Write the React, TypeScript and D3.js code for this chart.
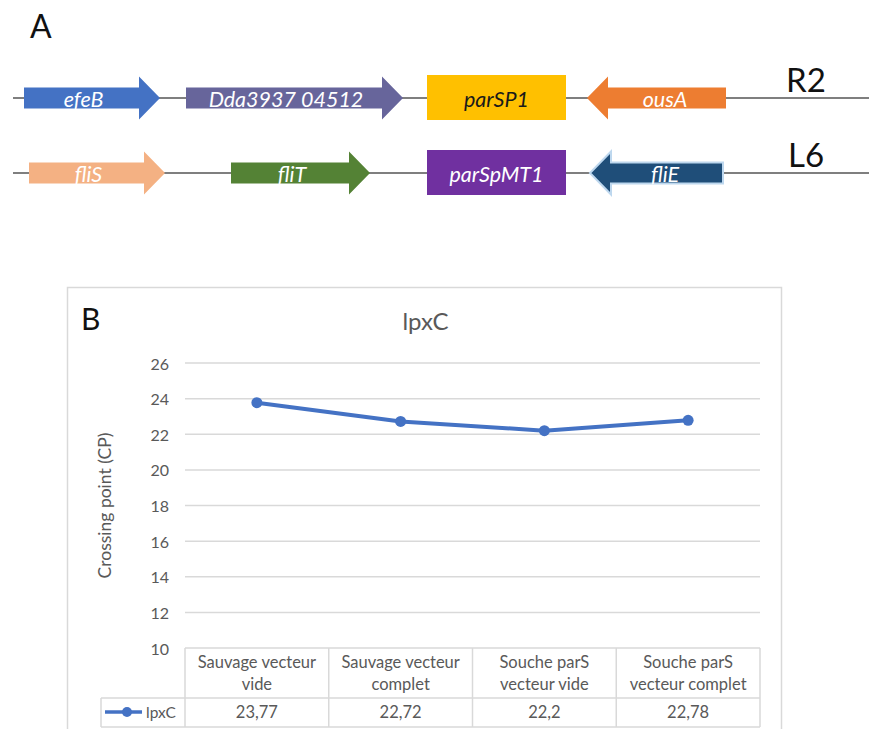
import React from "react";
import * as d3 from "d3";

// ---------- Panel A data (schematic gene maps, positions in map units) ----------
const rowNames = ["R2", "L6"];
const genesR2 = [
  { name: "efeB", start: 24, end: 160, color: "#4472C4", text: "#ffffff" },
  { name: "Dda3937 04512", start: 186, end: 403, color: "#67659B", text: "#ffffff" },
  { name: "parSP1", start: 427, end: 566, color: "#FFC000", text: "#1a1a1a", box: true },
  { name: "ousA", start: 726, end: 587, color: "#ED7D31", text: "#ffffff" },
];
const genesL6 = [
  { name: "fliS", start: 29, end: 165, color: "#F4B183", text: "#ffffff" },
  { name: "fliT", start: 231, end: 370, color: "#548235", text: "#ffffff" },
  { name: "parSpMT1", start: 427, end: 566, color: "#7030A0", text: "#ffffff", box: true },
  { name: "fliE", start: 723, end: 590, color: "#1F4E79", text: "#ffffff", glow: true },
];

// ---------- Panel B data ----------
const categories = [
  ["Sauvage vecteur", "vide"],
  ["Sauvage vecteur", "complet"],
  ["Souche parS", "vecteur vide"],
  ["Souche parS", "vecteur complet"],
];
const seriesName = "lpxC";
const values = [23.77, 22.72, 22.2, 22.78];
const valueLabels = ["23,77", "22,72", "22,2", "22,78"];
const yTicks = [10, 12, 14, 16, 18, 20, 22, 24, 26];

const FONT = "Lato, 'Open Sans', sans-serif";
const GREY = "#595959";

function arrowPath(tail: number, tip: number, cy: number, bodyH: number, headH: number, headLen: number) {
  const dir = tip > tail ? 1 : -1;
  const hb = tip - dir * headLen;
  const p = d3.path();
  p.moveTo(tail, cy - bodyH / 2);
  p.lineTo(hb, cy - bodyH / 2);
  p.lineTo(hb, cy - headH / 2);
  p.lineTo(tip, cy);
  p.lineTo(hb, cy + headH / 2);
  p.lineTo(hb, cy + bodyH / 2);
  p.lineTo(tail, cy + bodyH / 2);
  p.closePath();
  return p.toString();
}

function GeneRow({ genes, cy, label }: { genes: any[]; cy: number; label: string }) {
  const mx = d3.scaleLinear().domain([0, 869]).range([0, 869]);
  return (
    <g>
      <line x1={mx(13)} x2={mx(869)} y1={cy} y2={cy} stroke="#555" strokeWidth={1.5} />
      {genes.map((g) => {
        const a = mx(g.start), b = mx(g.end);
        const cx = (a + b) / 2;
        const left = Math.min(a, b), right = Math.max(a, b);
        const dir = b > a ? 1 : -1;
        const headLen = 21;
        const bodyCenter = g.box ? cx : (a + (b - dir * headLen)) / 2 + dir * 2;
        return (
          <g key={g.name}>
            {g.box ? (
              <rect x={left} y={cy - 23} width={right - left} height={45} fill={g.color} />
            ) : (
              <path
                d={arrowPath(a, b, cy, 21, 43, headLen)}
                fill={g.color}
                stroke={g.glow ? "#BDD7EE" : "none"}
                strokeWidth={g.glow ? 2 : 0}
              />
            )}
            <text
              x={g.box ? cx : bodyCenter}
              y={cy + 1}
              textAnchor="middle"
              dominantBaseline="central"
              fontFamily={FONT}
              fontStyle="italic"
              fontSize={21.5}
              fill={g.text}
            >
              {g.name}
            </text>
          </g>
        );
      })}
      <text x={806} y={cy - 6} textAnchor="middle" fontFamily={FONT} fontSize={33} fill="#111">
        {label}
      </text>
    </g>
  );
}

export default function App() {
  const plotL = 185, plotR = 760, plotT = 363, plotB = 648;
  const x = d3.scaleBand<number>().domain(d3.range(categories.length)).range([plotL, plotR]).padding(0);
  const y = d3.scaleLinear().domain([10, 26]).range([plotB, plotT]);
  const xc = (i: number) => (x(i) as number) + x.bandwidth() / 2;
  const line = d3
    .line<number>()
    .x((_, i) => xc(i))
    .y((d) => y(d));

  const row1B = 698, row2B = 727;
  const legendL = 101;

  return (
    <svg width={869} height={729} style={{ position: "absolute", left: 0, top: 0, background: "#fff" }}>
      {/* Panel A */}
      <text x={30} y={38} fontFamily={FONT} fontSize={32} fill="#111">A</text>
      <GeneRow genes={genesR2} cy={98} label={rowNames[0]} />
      <GeneRow genes={genesL6} cy={173} label={rowNames[1]} />

      {/* Panel B frame */}
      <rect x={67.5} y={287.5} width={714} height={460} fill="#fff" stroke="#D9D9D9" strokeWidth={1.5} />
      <text x={81} y={330} fontFamily={FONT} fontSize={30} fill="#111">B</text>
      <text x={(plotL + plotR) / 2 - 47} y={330} textAnchor="middle" fontFamily={FONT} fontSize={24} fill={GREY}>
        {seriesName}
      </text>

      {/* gridlines + y ticks */}
      {yTicks.map((t) => (
        <g key={t}>
          {t > 10 && <line x1={plotL} x2={plotR} y1={y(t)} y2={y(t)} stroke="#D9D9D9" strokeWidth={1.5} />}
          <text x={169} y={y(t)} textAnchor="end" dominantBaseline="central" fontFamily={FONT} fontSize={16} fill={GREY}>
            {t}
          </text>
        </g>
      ))}
      <text
        transform={`translate(104,${(plotT + plotB) / 2}) rotate(-90)`}
        textAnchor="middle"
        dominantBaseline="central"
        fontFamily={FONT}
        fontSize={17.5}
        fill={GREY}
      >
        Crossing point (CP)
      </text>

      {/* data table */}
      <g stroke="#D9D9D9" strokeWidth={1.5} fill="none">
        <line x1={plotL} x2={plotR} y1={plotB} y2={plotB} />
        <line x1={legendL} x2={plotR} y1={row1B} y2={row1B} />
        <line x1={legendL} x2={plotR} y1={row2B} y2={row2B} />
        <line x1={legendL} x2={legendL} y1={row1B} y2={row2B} />
        {d3.range(categories.length + 1).map((i) => {
          const xx = i < categories.length ? (x(i) as number) : plotR;
          return <line key={i} x1={xx} x2={xx} y1={plotB} y2={row2B} />;
        })}
      </g>
      {categories.map((c, i) => (
        <g key={i}>
          {c.map((ln, k) => (
            <text
              key={k}
              x={xc(i)}
              y={662 + k * 22}
              textAnchor="middle"
              dominantBaseline="central"
              fontFamily={FONT}
              fontSize={16.5}
              fill={GREY}
            >
              {ln}
            </text>
          ))}
          <text x={xc(i)} y={712} textAnchor="middle" dominantBaseline="central" fontFamily={FONT} fontSize={16.5} fill={GREY}>
            {valueLabels[i]}
          </text>
        </g>
      ))}
      {/* legend key */}
      <line x1={105} x2={142} y1={712} y2={712} stroke="#4472C4" strokeWidth={3.5} />
      <circle cx={127} cy={712} r={5} fill="#4472C4" />
      <text x={146} y={712} dominantBaseline="central" fontFamily={FONT} fontSize={15.5} fill={GREY}>
        {seriesName}
      </text>

      {/* series */}
      <path d={line(values) as string} fill="none" stroke="#4472C4" strokeWidth={4} strokeLinejoin="round" />
      {values.map((v, i) => (
        <circle key={i} cx={xc(i)} cy={y(v)} r={5.5} fill="#4472C4" />
      ))}
    </svg>
  );
}
